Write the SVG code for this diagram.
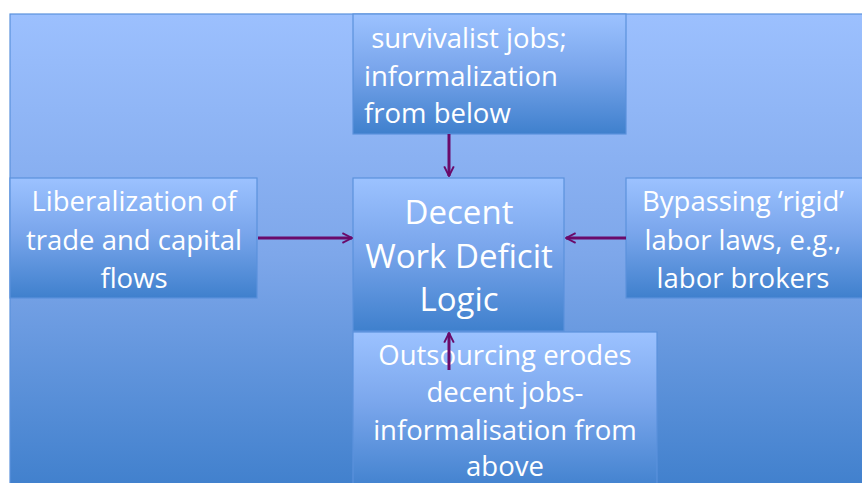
<svg xmlns="http://www.w3.org/2000/svg" width="862" height="483" viewBox="0 0 862 483">
<defs>
<linearGradient id="bg" x1="0" y1="0" x2="0" y2="1">
<stop offset="0" stop-color="#9cc0fe"/>
<stop offset="0.5" stop-color="#7ea7ea"/>
<stop offset="1" stop-color="#3f7fcc"/>
</linearGradient>
<linearGradient id="bx" x1="0" y1="0" x2="0" y2="1">
<stop offset="0" stop-color="#9cc2ff"/>
<stop offset="0.45" stop-color="#7aa6ec"/>
<stop offset="1" stop-color="#3f80cd"/>
</linearGradient>
<marker id="ah" viewBox="0 0 10 10" refX="9" refY="5" markerWidth="4" markerHeight="4" orient="auto" markerUnits="strokeWidth">
<path d="M1,1 L9,5 L1,9" fill="none" stroke="#6a0a6a" stroke-width="1.6"/>
</marker>
</defs>
<style>
.box{fill:url(#bx);stroke:#5b92dc;stroke-width:1.2}
.t{font-family:"Open Sans","Liberation Sans",sans-serif;fill:#ffffff;font-size:27.5px}
.c{text-anchor:middle}
.big{font-size:33px}
.ar{stroke:#6a0a6a;stroke-width:3;fill:none;marker-end:url(#ah)}
</style>
<rect x="0" y="0" width="862" height="483" fill="#ffffff"/>
<rect id="background" x="10" y="14" width="860" height="480" fill="url(#bg)" stroke="#5b92dc" stroke-width="1.2"/>
<g id="node-top">
<rect class="box" x="353" y="14" width="273" height="120"/>
<text class="t" x="364" y="48" xml:space="preserve"> survivalist jobs;</text>
<text class="t" x="364" y="86">informalization</text>
<text class="t" x="364" y="123">from below</text>
</g>
<g id="node-left">
<rect class="box" x="10" y="178" width="247" height="120"/>
<text class="t c" x="134" y="211">Liberalization of</text>
<text class="t c" x="134" y="250">trade and capital</text>
<text class="t c" x="134" y="288">flows</text>
</g>
<g id="node-center">
<rect class="box" x="353" y="178" width="211" height="153"/>
<text class="t c big" x="459" y="224">Decent</text>
<text class="t c big" x="459" y="268">Work Deficit</text>
<text class="t c big" x="459" y="311">Logic</text>
</g>
<g id="node-right">
<rect class="box" x="626" y="178" width="240" height="120"/>
<text class="t c" x="743" y="211">Bypassing ‘rigid’</text>
<text class="t c" x="743" y="250">labor laws, e.g.,</text>
<text class="t c" x="743" y="288">labor brokers</text>
</g>
<g id="node-bottom">
<rect class="box" x="353" y="332" width="304" height="160"/>
<text class="t c" x="505" y="365">Outsourcing erodes</text>
<text class="t c" x="505" y="402">decent jobs-</text>
<text class="t c" x="505" y="440">informalisation from</text>
<text class="t c" x="505" y="476">above</text>
</g>
<g id="connectors">
<line class="ar" x1="449" y1="134" x2="449" y2="176"/>
<line class="ar" x1="258" y1="238" x2="352" y2="238"/>
<line class="ar" x1="626" y1="238" x2="566" y2="238"/>
<line class="ar" x1="449" y1="370" x2="449" y2="333"/>
</g>
</svg>
